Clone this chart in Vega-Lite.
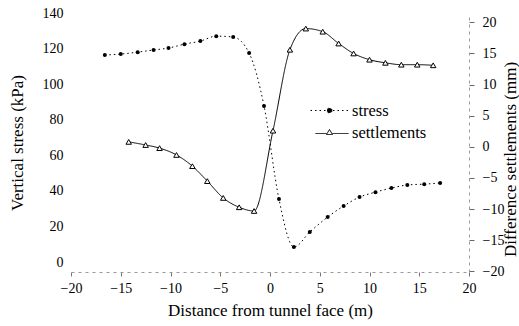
{
  "$schema": "https://vega.github.io/schema/vega-lite/v6.json",
  "width": 398,
  "height": 259,
  "autosize": {"type": "none"},
  "padding": {"left": 71, "top": 13, "right": 50, "bottom": 54},
  "background": "white",
  "config": {
    "font": "'Liberation Serif', 'Times New Roman', 'DejaVu Serif', serif",
    "view": {"stroke": null},
    "axis": {
      "labelFont": "'Liberation Serif', 'Times New Roman', 'DejaVu Serif', serif",
      "titleFont": "'Liberation Serif', 'Times New Roman', 'DejaVu Serif', serif",
      "labelFontSize": 14,
      "titleFontSize": 17,
      "titleFontWeight": "normal",
      "labelColor": "black",
      "titleColor": "black",
      "grid": false
    },
    "legend": {"labelFont": "'Liberation Serif', 'Times New Roman', 'DejaVu Serif', serif"}
  },
  "datasets": {
    "rows": [
      {"series": "stress", "distance": -16.6, "value": 116.4},
      {"series": "stress", "distance": -15.0, "value": 116.9},
      {"series": "stress", "distance": -13.3, "value": 118.0},
      {"series": "stress", "distance": -11.7, "value": 119.2},
      {"series": "stress", "distance": -10.2, "value": 120.3},
      {"series": "stress", "distance": -8.6, "value": 122.5},
      {"series": "stress", "distance": -7.0, "value": 124.2},
      {"series": "stress", "distance": -5.4, "value": 127.0},
      {"series": "stress", "distance": -3.7, "value": 126.5},
      {"series": "stress", "distance": -2.1, "value": 117.5},
      {"series": "stress", "distance": -0.6, "value": 87.7},
      {"series": "stress", "distance": 0.9, "value": 35.4},
      {"series": "stress", "distance": 2.4, "value": 8.4},
      {"series": "stress", "distance": 4.0, "value": 16.9},
      {"series": "stress", "distance": 5.8, "value": 25.3},
      {"series": "stress", "distance": 7.4, "value": 31.5},
      {"series": "stress", "distance": 9.0, "value": 36.5},
      {"series": "stress", "distance": 10.6, "value": 39.3},
      {"series": "stress", "distance": 12.2, "value": 41.6},
      {"series": "stress", "distance": 13.8, "value": 43.3},
      {"series": "stress", "distance": 15.5, "value": 43.8},
      {"series": "stress", "distance": 17.1, "value": 44.4},
      {"series": "settlements", "distance": -14.2, "value": 0.8},
      {"series": "settlements", "distance": -12.5, "value": 0.3},
      {"series": "settlements", "distance": -11.1, "value": -0.2},
      {"series": "settlements", "distance": -9.4, "value": -1.3},
      {"series": "settlements", "distance": -7.8, "value": -3.1},
      {"series": "settlements", "distance": -6.3, "value": -5.5},
      {"series": "settlements", "distance": -4.7, "value": -8.2},
      {"series": "settlements", "distance": -3.1, "value": -9.7},
      {"series": "settlements", "distance": -1.6, "value": -10.3},
      {"series": "settlements", "distance": 0.3, "value": 2.6},
      {"series": "settlements", "distance": 2.0, "value": 15.6},
      {"series": "settlements", "distance": 3.6, "value": 19.0},
      {"series": "settlements", "distance": 5.3, "value": 18.5},
      {"series": "settlements", "distance": 6.9, "value": 16.6},
      {"series": "settlements", "distance": 8.4, "value": 15.0},
      {"series": "settlements", "distance": 10.0, "value": 14.0},
      {"series": "settlements", "distance": 11.6, "value": 13.5},
      {"series": "settlements", "distance": 13.2, "value": 13.2},
      {"series": "settlements", "distance": 14.8, "value": 13.2},
      {"series": "settlements", "distance": 16.4, "value": 13.1}
    ]
  },
  "data": {"name": "rows"},
  "encoding": {
    "x": {
      "field": "distance",
      "type": "quantitative",
      "scale": {"domain": [-20, 20], "nice": false, "zero": false},
      "axis": {
        "values": [-20, -15, -10, -5, 0, 5, 10, 15, 20],
        "title": "Distance from tunnel face (m)",
        "domainColor": "#999",
        "domainDash": [3, 4],
        "tickColor": "#777",
        "tickSize": 4,
        "labelPadding": 5,
        "labelFlush": false,
        "titleBaseline": "alphabetic",
        "titleY": 43
      }
    }
  },
  "layer": [
    {
      "transform": [{"filter": "datum.series === 'stress'"}],
      "encoding": {
        "y": {
          "field": "value",
          "type": "quantitative",
          "scale": {"domain": [-5.6, 140], "nice": false, "zero": false},
          "axis": {
            "orient": "left",
            "values": [0, 20, 40, 60, 80, 100, 120, 140],
            "ticks": false,
            "domain": false,
            "labelPadding": 8,
            "title": "Vertical stress (kPa)",
            "titleAngle": 270,
            "titleX": -54,
            "titleY": 129.5,
            "titleAlign": "center",
            "titleBaseline": "middle"
          }
        }
      },
      "layer": [
        {
          "mark": {"type": "line", "interpolate": "monotone", "color": "black", "strokeWidth": 1},
          "encoding": {
            "strokeDash": {
              "field": "series",
              "type": "nominal",
              "scale": {"domain": ["stress", "settlements"], "range": [[1.5, 3], [1, 0]]},
              "legend": {
                "orient": "none",
                "legendX": 257,
                "legendY": 87,
                "title": null,
                "padding": 0,
                "symbolSize": 400,
                "symbolStrokeWidth": 1,
                "symbolStrokeColor": "black",
                "labelFontSize": 16.5,
                "labelColor": "black",
                "labelOffset": 3,
                "rowPadding": 3,
                "encode": {
                  "symbols": {
                    "update": {
                      "shape": {"signal": "datum.value === 'stress' ? 'M-2.8,0H1M-0.65,0A0.25,0.25 0 1,1 -1.15,0A0.25,0.25 0 1,1 -0.65,0' : 'M-2.3,0.1H-1.2M-0.6,0.1H1M-0.9,-0.3L-0.6,0.2L-1.2,0.2Z'"},
                      "fill": {"signal": "datum.value === 'stress' ? 'black' : 'white'"},
                      "stroke": {"value": "black"}
                    }
                  }
                }
              }
            }
          }
        },
        {
          "mark": {"type": "point", "shape": "circle", "filled": true, "color": "black", "size": 16, "opacity": 1}
        }
      ]
    },
    {
      "transform": [{"filter": "datum.series === 'settlements'"}],
      "encoding": {
        "y": {
          "field": "value",
          "type": "quantitative",
          "scale": {"domain": [-20.1, 21.5], "nice": false, "zero": false},
          "axis": {
            "orient": "right",
            "values": [-20, -15, -10, -5, 0, 5, 10, 15, 20],
            "domainColor": "#999",
            "domainDash": [3, 4],
            "tickColor": "#666",
            "tickSize": 5,
            "labelPadding": 8,
            "title": "Difference settlements (mm)",
            "titleAngle": 270,
            "titleX": 41,
            "titleY": 146,
            "titleAlign": "center",
            "titleBaseline": "middle"
          }
        }
      },
      "layer": [
        {
          "mark": {"type": "line", "interpolate": "monotone", "color": "black", "strokeWidth": 1},
          "encoding": {
            "strokeDash": {"field": "series", "type": "nominal", "scale": {"domain": ["stress", "settlements"], "range": [[1.5, 3], [1, 0]]}}
          }
        },
        {
          "mark": {"type": "point", "shape": "triangle-up", "filled": false, "fill": "white", "stroke": "black", "strokeWidth": 1, "size": 30, "opacity": 1}
        }
      ]
    }
  ],
  "resolve": {"scale": {"y": "independent"}}
}
